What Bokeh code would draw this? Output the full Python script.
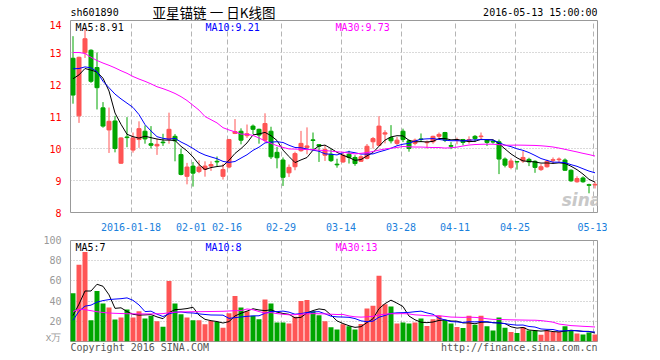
import numpy as np
from bokeh.plotting import figure
from bokeh.models import Range1d, FixedTicker, Label, ColumnDataSource
from bokeh.layouts import column
from bokeh.embed import file_html
from bokeh.resources import INLINE

# ---------------- data ----------------
opens = [12.82, 11.02, 12.99, 13.07, 12.53, 11.27, 10.58, 10.86, 9.54, 10.36,
         9.95, 10.28, 10.54, 10.15, 10.08, 10.20, 10.28, 10.38, 9.81, 9.13,
         9.45, 9.28, 9.35, 9.45, 9.60, 9.13, 9.42, 10.47, 10.54, 10.40,
         10.70, 10.60, 10.26, 10.54, 9.88, 9.64, 9.24, 9.43, 9.93, 10.03,
         10.27, 10.12, 9.79, 9.82, 9.51, 9.58, 9.82, 9.72, 9.60, 9.69,
         10.21, 10.10, 10.45, 10.34, 10.16, 10.54, 10.24, 10.16, 10.30, 10.18,
         10.21, 10.38, 10.50, 10.09, 10.25, 10.28, 10.23, 10.38, 10.37, 10.26,
         10.22, 10.21, 9.67, 9.41, 9.59, 9.61, 9.66, 9.60, 9.34, 9.43,
         9.63, 9.65, 9.64, 9.32, 8.96, 9.08, 8.87, 8.86]
highs = [13.51, 12.87, 13.74, 13.10, 13.00, 11.45, 11.28, 11.02, 10.35, 10.98,
         10.50, 10.85, 10.72, 10.70, 10.30, 10.46, 11.12, 10.45, 10.00, 9.55,
         9.58, 9.63, 9.60, 9.60, 9.75, 9.52, 10.30, 10.92, 10.63, 10.75,
         10.75, 10.62, 11.10, 10.68, 10.05, 9.72, 9.50, 9.90, 10.55, 10.66,
         10.50, 10.14, 10.10, 9.98, 9.68, 9.86, 9.93, 9.79, 9.79, 10.14,
         10.36, 11.01, 10.57, 10.73, 10.36, 10.62, 10.28, 10.31, 10.47, 10.25,
         10.40, 10.50, 10.52, 10.20, 10.34, 10.30, 10.38, 10.42, 10.50, 10.28,
         10.26, 10.28, 9.72, 9.69, 9.60, 9.92, 9.71, 9.63, 9.51, 9.65,
         9.72, 9.72, 9.69, 9.35, 9.13, 9.13, 8.90, 8.96]
lows = [11.40, 10.80, 12.83, 12.05, 11.22, 10.65, 9.86, 9.88, 9.52, 10.04,
        9.87, 10.02, 10.15, 10.00, 9.80, 10.08, 10.15, 9.60, 9.16, 8.88,
        8.81, 9.23, 9.12, 9.30, 9.45, 9.03, 9.38, 10.45, 10.13, 10.33,
        10.45, 10.15, 10.19, 9.67, 9.38, 8.83, 9.11, 9.32, 9.90, 9.82,
        9.95, 9.58, 9.61, 9.58, 9.40, 9.55, 9.53, 9.46, 9.58, 9.66,
        10.00, 10.08, 10.16, 10.16, 10.10, 10.20, 9.90, 10.10, 10.20, 10.00,
        10.15, 10.31, 10.20, 9.98, 10.13, 10.10, 10.15, 10.20, 10.28, 10.08,
        10.15, 9.20, 9.41, 9.35, 9.34, 9.55, 9.45, 9.24, 9.30, 9.40,
        9.53, 9.56, 9.30, 8.96, 8.93, 8.93, 8.60, 8.75]
closes = [11.67, 12.85, 13.43, 12.10, 11.90, 10.70, 10.85, 10.00, 10.33, 10.34,
          10.33, 10.62, 10.30, 10.10, 10.13, 10.18, 10.60, 10.24, 9.19, 9.42,
          9.23, 9.42, 9.45, 9.50, 9.58, 9.34, 10.28, 10.53, 10.26, 10.46,
          10.60, 10.42, 10.78, 9.74, 9.71, 9.10, 9.41, 9.84, 10.16, 10.08,
          10.25, 10.07, 9.97, 9.62, 9.49, 9.79, 9.72, 9.53, 9.74, 10.07,
          10.31, 10.70, 10.49, 10.24, 10.26, 10.28, 10.00, 10.26, 10.28, 10.20,
          10.38, 10.44, 10.26, 10.07, 10.27, 10.19, 10.28, 10.31, 10.39, 10.19,
          10.20, 9.67, 9.48, 9.61, 9.58, 9.72, 9.58, 9.41, 9.43, 9.60,
          9.65, 9.67, 9.32, 8.99, 9.06, 8.96, 8.85, 8.88]
volumes = [47.7, 76, 88.7, 21, 50, 37.7, 33.7, 21.7, 23.7, 31.7,
           23.7, 30, 22.7, 25.4, 20, 14.7, 60, 37.7, 27, 23.7,
           21, 21, 17, 20.4, 19.4, 13.7, 28, 45, 33.7, 30,
           25.4, 22, 41.7, 37.7, 18.7, 18.7, 17.7, 24.4, 40, 41,
           30, 26, 20, 14, 12, 17, 15, 12, 17.4, 32.7,
           35.4, 65, 37, 34.7, 17.7, 18.7, 17.7, 18.7, 22.7, 15.4,
           22, 25.4, 21, 17.7, 14.4, 13.4, 25.4, 16.7, 25.4, 15,
           11, 23.7, 13.7, 9.4, 8.4, 14.4, 11, 11, 6.7, 11,
           9.4, 9.4, 15, 11, 8, 7, 9, 7]

# moving-average values at the start of the window (carried over from before Jan 4)
price_ma5_lead = [12.18, 12.30, 12.50, 12.45]
price_ma10_lead = [12.49, 12.50, 12.55, 12.52, 12.40, 12.10, 11.90, 11.70, 11.55]
price_ma30_lead = [13.00, 13.00, 12.97, 12.85, 12.75, 12.67, 12.60, 12.52, 12.43, 12.35,
                   12.25, 12.17, 12.10, 12.02, 11.93, 11.87, 11.80, 11.72, 11.62, 11.50,
                   11.35, 11.20, 11.00, 10.90, 10.80, 10.65, 10.58, 10.52, 10.45]
vol_ma5_lead = [25.7, 37.0, 50.0, 50.0]
vol_ma10_lead = [21.0, 30.0, 35.0, 36.0, 39.0, 40.5, 41.5, 42.0, 42.4]
vol_ma30_lead = [29.7, 32.0, 31.5, 30.5, 29.5, 28.7, 28.2, 27.9, 27.7, 27.5,
                 27.4, 27.3, 27.3, 27.3, 27.4, 27.6, 28.5, 29.0, 29.3, 29.4,
                 29.5, 29.5, 29.6, 29.7, 29.8, 29.9, 30.2, 30.5, 30.6]

tick_days = [10, 20, 26, 35, 45, 55, 64, 74, 87]
tick_labels = ["2016-01-18", "02-01", "02-16", "02-29", "03-14", "03-28", "04-11", "04-25", "05-13"]
price_ticks = [8, 9, 10, 11, 12, 13, 14]
vol_ticks = [0, 20, 40, 60, 80, 100]
vol_unit = "x万"
price_ma_text = ["8.91", "9.21", "9.73"]
vol_ma_text = ["7", "8", "13"]
stock_code = "sh601890"
chart_title = "亚星锚链 一 日K线图"
stamp = "2016-05-13 15:00:00"

# ---------------- helpers ----------------
def moving_avg(vals, n, lead):
    out = []
    for i in range(len(vals)):
        if i < n - 1:
            out.append(lead[i])
        else:
            out.append(float(np.mean(vals[i - n + 1:i + 1])))
    return out

RED = "#ff5555"
GREEN = "#00a600"
MONO = "DejaVu Sans Mono"
n = len(closes)
x = list(range(n))
colors = [RED if c >= o else GREEN for o, c in zip(opens, closes)]

# pixel <-> data helpers (6 px per trading day, candle 0 centred at px 72.5)
def xi(px):
    return (px - 72.5) / 6.0

def yp(py):
    return 14 - (py - 20) / 32.0

def yv(py):
    return (341 - py) / 1.01

x_start = xi(70)
x_end = xi(597)
grid_pos = [round(d - 1 / 3, 4) for d in tick_days]

src = ColumnDataSource(dict(
    x=x, o=opens, h=highs, l=lows, c=closes,
    top=[max(a, b) for a, b in zip(opens, closes)],
    bot=[min(a, b) for a, b in zip(opens, closes)],
    vol=volumes, color=colors,
    ma5=moving_avg(closes, 5, price_ma5_lead),
    ma10=moving_avg(closes, 10, price_ma10_lead),
    ma30=moving_avg(closes, 30, price_ma30_lead),
    vma5=moving_avg(volumes, 5, vol_ma5_lead),
    vma10=moving_avg(volumes, 10, vol_ma10_lead),
    vma30=moving_avg(volumes, 30, vol_ma30_lead),
))

def style_common(p):
    p.outline_line_color = "#999999"
    p.outline_line_width = 1
    p.background_fill_color = "white"
    p.border_fill_color = "white"
    for ax in (p.xaxis, p.yaxis):
        ax.axis_line_color = None
        ax.major_tick_line_color = None
        ax.minor_tick_line_color = None
        ax.major_label_text_font = MONO
        ax.major_label_text_font_size = "10px"
    p.xgrid.ticker = FixedTicker(ticks=grid_pos)
    p.xgrid.grid_line_color = "#b4b4b4"
    p.xgrid.grid_line_dash = "5 3"
    p.ygrid.grid_line_color = "#b4b4b4"
    p.ygrid.grid_line_dash = "1 2"

def add_text(p, px, py_val, text, color="black", align="left", size="10px", font=MONO, style="normal"):
    p.add_layout(Label(x=px, y=py_val, text=text, text_color=color, text_align=align,
                       text_baseline="middle", text_font=font, text_font_size=size,
                       text_font_style=style))

def strip_fig(y_top, y_bot):
    # a bare strip whose frame lines up with the charts, in page-pixel coordinates
    f = figure(frame_width=527, frame_height=y_bot - y_top,
               x_range=Range1d(70, 597), y_range=Range1d(y_bot, y_top),
               x_axis_type=None, y_axis_type=None,
               output_backend="svg", toolbar_location=None,
               min_border_left=70, min_border_right=10, min_border_top=0, min_border_bottom=0)
    f.outline_line_color = None
    f.grid.visible = False
    f.background_fill_color = "white"
    f.border_fill_color = "white"
    return f

# ---------------- header ----------------
head = strip_fig(0, 20)
add_text(head, 70, 12, stock_code)
add_text(head, 213.5, 11, chart_title, size="13.5px", font="Noto Sans CJK SC", align="center")
add_text(head, 597, 12, stamp, align="right")

# ---------------- price chart ----------------
p1 = figure(frame_width=527, frame_height=192,
            x_range=Range1d(x_start, x_end), y_range=Range1d(8, 14),
            output_backend="svg", toolbar_location=None,
            min_border_left=70, min_border_right=10, min_border_top=0, min_border_bottom=22)
style_common(p1)
p1.yaxis.ticker = FixedTicker(ticks=price_ticks)
p1.yaxis.major_label_text_color = "#ff0000"
p1.yaxis.major_label_standoff = 3
p1.ygrid.ticker = FixedTicker(ticks=price_ticks[1:-1])
p1.xaxis.ticker = FixedTicker(ticks=grid_pos)
p1.xaxis.major_label_overrides = {g: t for g, t in zip(grid_pos, tick_labels)}
p1.xaxis.major_label_text_color = "#1a80dc"
p1.xaxis.major_label_standoff = 4

p1.segment(x0="x", y0="l", x1="x", y1="h", color="color", line_width=1, source=src)
p1.vbar(x="x", width=0.67, top="top", bottom="bot", fill_color="color",
        line_color="color", line_width=1, source=src)
p1.line("x", "ma5", color="black", line_width=1, source=src)
p1.line("x", "ma10", color="#0000ff", line_width=1, source=src)
p1.line("x", "ma30", color="#ff00ff", line_width=1, source=src)

add_text(p1, xi(75), yp(26.5), "MA5:" + price_ma_text[0])
add_text(p1, xi(205), yp(26.5), "MA10:" + price_ma_text[1], color="#0000ff")
add_text(p1, xi(335), yp(26.5), "MA30:" + price_ma_text[2], color="#ff00ff")
add_text(p1, xi(581), yp(199), "sina", color="#c8c8c8", align="center", size="17px",
         font="DejaVu Sans", style="bold italic")

# ---------------- volume chart ----------------
p2 = figure(frame_width=527, frame_height=101,
            x_range=p1.x_range, y_range=Range1d(0, 100),
            output_backend="svg", toolbar_location=None,
            min_border_left=70, min_border_right=10, min_border_top=6, min_border_bottom=1)
style_common(p2)
p2.xaxis.visible = False
p2.yaxis.ticker = FixedTicker(ticks=vol_ticks)
p2.yaxis.major_label_overrides = {0: vol_unit}
p2.yaxis.major_label_text_color = "#999999"
p2.yaxis.major_label_standoff = 3
p2.ygrid.ticker = FixedTicker(ticks=vol_ticks[1:-1])

p2.vbar(x="x", width=0.83, top="vol", bottom=0, fill_color="color", line_color=None, source=src)
p2.line("x", "vma5", color="black", line_width=1, source=src)
p2.line("x", "vma10", color="#0000ff", line_width=1, source=src)
p2.line("x", "vma30", color="#ff00ff", line_width=1, source=src)

add_text(p2, xi(75), yv(247), "MA5:" + vol_ma_text[0])
add_text(p2, xi(205), yv(247), "MA10:" + vol_ma_text[1], color="#0000ff")
add_text(p2, xi(335), yv(247), "MA30:" + vol_ma_text[2], color="#ff00ff")

# ---------------- footer ----------------
foot = strip_fig(342, 358)
add_text(foot, 70, 347, "Copyright 2016 SINA.COM", color="#555555")
add_text(foot, 597, 347, "http://finance.sina.com.cn", color="#555555", align="right")

layout = column(head, p1, p2, foot, spacing=0)
open("out.html", "w").write(file_html(layout, INLINE))
